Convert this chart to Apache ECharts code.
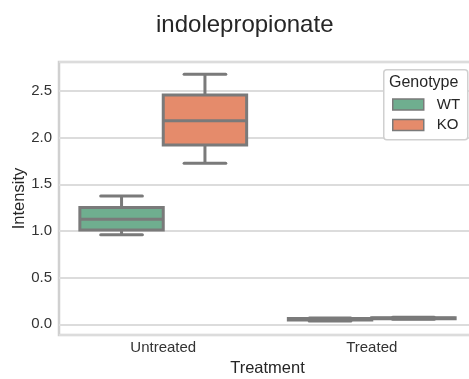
<!DOCTYPE html>
<html>
<head>
<meta charset="utf-8">
<script src="https://cdn.jsdelivr.net/npm/echarts@6/dist/echarts.min.js"></script>
<style>html,body{margin:0;padding:0;background:#fff;}#c{width:469px;height:379px;}</style>
</head>
<body>
<div id="c"></div>
<script>
// ---- data ----
const categories = ['Untreated', 'Treated'];
const genotypes = ['WT', 'KO'];
// [min, Q1, median, Q3, max] per category
const wtStats = [[0.96, 1.01, 1.125, 1.25, 1.375], [0.035, 0.045, 0.052, 0.062, 0.068]];
const koStats = [[1.725, 1.92, 2.18, 2.457, 2.68], [0.055, 0.06, 0.065, 0.07, 0.075]];
const yTicks = [0.0, 0.5, 1.0, 1.5, 2.0, 2.5];

const colors = ['#6fae8f', '#e58b6b'];
const edge = '#7a7a7a';

function toData(stats) {
  return stats.map((s, i) => [i].concat(s));
}

function makeRender(offsetFrac) {
  return function (params, api) {
    const cat = api.value(0);
    const band = api.size([1, 0])[0];
    const cx = api.coord([cat, 0])[0] + offsetFrac * band;
    const w = 0.4 * band;
    const y = k => api.coord([cat, api.value(k)])[1];
    const yMin = y(1), yQ1 = y(2), yMed = y(3), yQ3 = y(4), yMax = y(5);
    const ls = { stroke: edge, lineWidth: 3 };
    return {
      type: 'group',
      children: [
        { type: 'line', shape: { x1: cx, y1: yQ3, x2: cx, y2: yMax }, style: ls },
        { type: 'line', shape: { x1: cx, y1: yQ1, x2: cx, y2: yMin }, style: ls },
        { type: 'line', shape: { x1: cx - w / 4, y1: yMax, x2: cx + w / 4, y2: yMax }, style: Object.assign({ lineCap: 'round' }, ls) },
        { type: 'line', shape: { x1: cx - w / 4, y1: yMin, x2: cx + w / 4, y2: yMin }, style: Object.assign({ lineCap: 'round' }, ls) },
        { type: 'rect', shape: { x: cx - w / 2, y: yQ3, width: w, height: yQ1 - yQ3 },
          style: { fill: api.visual('color'), stroke: edge, lineWidth: 3 } },
        { type: 'line', shape: { x1: cx - w / 2, y1: yMed, x2: cx + w / 2, y2: yMed }, style: ls }
      ]
    };
  };
}

const chart = echarts.init(document.getElementById('c'), null, { renderer: 'canvas' });
const font = '"Liberation Sans", Arial, sans-serif';

chart.setOption({
  animation: false,
  backgroundColor: '#fff',
  title: {
    text: 'indolepropionate', left: 151, top: 8,
    textStyle: { fontFamily: font, fontSize: 24, fontWeight: 'normal', color: '#262626' }
  },
  grid: {
    left: 59, top: 62, right: -7, bottom: 44,
    outerBoundsMode: 'none', containLabel: false,
    show: true, borderColor: '#d0d0d0', borderWidth: 2.5, backgroundColor: '#fff'
  },
  xAxis: {
    type: 'category', data: categories,
    name: 'Treatment', nameLocation: 'middle', nameGap: 24,
    nameTextStyle: { fontFamily: font, fontSize: 16.5, color: '#262626' },
    axisLine: { show: false }, axisTick: { show: false },
    axisLabel: { fontFamily: font, fontSize: 15, color: '#333', margin: 5 },
    splitLine: { show: false }
  },
  yAxis: {
    type: 'value', min: -0.115, max: 2.81, splitNumber: 5,
    name: 'Intensity', nameLocation: 'middle', nameGap: 31, nameRotate: 90,
    nameMoveOverlap: false,
    nameTextStyle: { fontFamily: font, fontSize: 16.5, color: '#262626' },
    axisLine: { show: false }, axisTick: { show: false },
    axisLabel: {
      fontFamily: font, fontSize: 15, color: '#333', margin: 7,
      showMinLabel: false, showMaxLabel: false,
      formatter: v => {
        const t = yTicks.find(x => Math.abs(x - v) < 1e-6);
        return t === undefined ? '' : t.toFixed(1);
      }
    },
    splitLine: { lineStyle: { color: '#dcdcdc', width: 2 } }
  },
  legend: {
    data: genotypes.map(g => ({ name: g, icon: 'rect' })),
    orient: 'vertical', left: 392, top: 96.5, padding: 0, z: 6,
    itemWidth: 31, itemHeight: 11, itemGap: 4.5,
    itemStyle: { borderColor: edge, borderWidth: 1.5 },
    textStyle: { fontFamily: font, fontSize: 15, lineHeight: 16, color: '#262626', padding: [0, 0, 0, 8] }
  },
  graphic: [
    { type: 'rect', left: 383, top: 69, shape: { width: 84, height: 70, r: 3 },
      style: { fill: '#fff', stroke: '#d0d0d0', lineWidth: 1.5 }, z: 3 },
    { type: 'text', left: 389, top: 75, style: { text: 'Genotype', fontFamily: font, fontSize: 16, fill: '#262626' }, z: 6 }
  ],
  series: [
    { name: 'WT', type: 'custom', renderItem: makeRender(-0.2), data: toData(wtStats),
      itemStyle: { color: colors[0] }, encode: { x: 0, y: [1, 2, 3, 4, 5] }, z: 2 },
    { name: 'KO', type: 'custom', renderItem: makeRender(0.2), data: toData(koStats),
      itemStyle: { color: colors[1] }, encode: { x: 0, y: [1, 2, 3, 4, 5] }, z: 2 }
  ]
});
</script>
</body>
</html>
